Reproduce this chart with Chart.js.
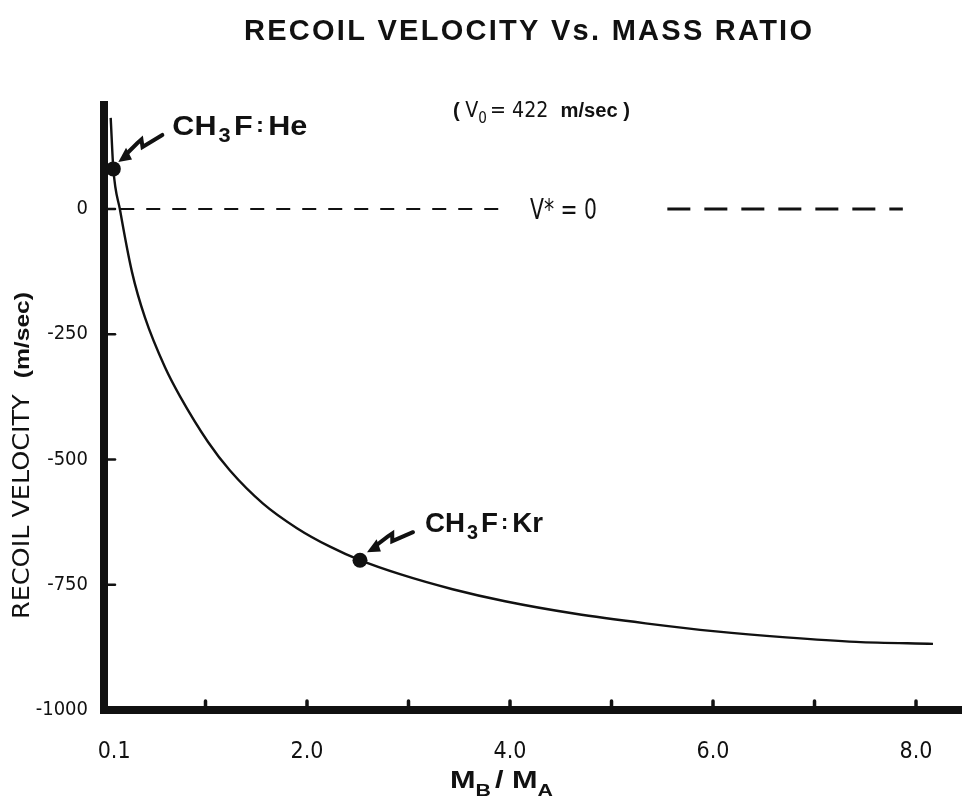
<!DOCTYPE html>
<html>
<head>
<meta charset="utf-8">
<script src="https://cdn.jsdelivr.net/npm/chart.js@4.4.1/dist/chart.umd.min.js"></script>
<style>
  html, body { margin: 0; padding: 0; background: #fff; }
  canvas { display: block; }
</style>
</head>
<body>
<canvas id="recoilChart" width="962" height="796"></canvas>
<script>
// curve: mass ratio M_B/M_A vs recoil velocity (m/sec)
const massRatio = [0.066, 0.092, 0.158, 0.276, 0.404, 0.601, 0.749, 1.025, 1.241, 1.567, 1.901, 2.227, 2.522, 2.916, 3.434, 3.951, 4.644, 5.336, 6.028, 6.719, 7.409, 8.167];
const recoilVelocity = [182, 80, -2, -126, -217, -316, -374, -465, -522, -588, -637, -674, -701, -729, -759, -783, -808, -827, -843, -855, -864, -868];

// marked systems
const markNames = ["He", "Kr"];
const markRatio = [0.092, 2.522];
const markVelocity = [80, -701];

// V* = 0 reference, drawn in two pieces around its label
const zeroLeft = [0.16, 3.96];
const zeroRight = [5.55, 7.87];

const xTicks = [0.1, 1, 2, 3, 4, 5, 6, 7, 8];
const xTickLabels = [0.1, 2, 4, 6, 8];
const yTicks = [0, -250, -500, -750, -1000];

const NARROW = '"Liberation Sans Narrow", "DejaVu Sans Condensed", "Arial Narrow", sans-serif';
const BOLD = '"Liberation Sans", Arial, sans-serif';
const ink = "#111";

function runs(ctx, x, y, parts) {
  parts.forEach((p) => {
    ctx.font = p.font;
    ctx.fillText(p.text, x, y + (p.dy || 0));
    x += ctx.measureText(p.text).width + (p.gap || 0);
  });
  return x;
}

function runsWidth(ctx, parts) {
  let w = 0;
  parts.forEach((p) => {
    ctx.font = p.font;
    w += ctx.measureText(p.text).width + (p.gap || 0);
  });
  return w;
}

// draw text squeezed or stretched to a given width (the lettering is condensed)
function fitText(ctx, x, y, parts, width) {
  const s = width / runsWidth(ctx, parts);
  ctx.save();
  ctx.translate(x, y);
  ctx.scale(s, 1);
  runs(ctx, 0, 0, parts);
  ctx.restore();
}

function zigArrow(ctx, sx, sy, tx, ty) {
  const dx = tx - sx, dy = ty - sy;
  const len = Math.hypot(dx, dy);
  const ux = dx / len, uy = dy / len;
  const nx = -uy, ny = ux;
  const a = 0.45 * len, b = 0.5 * len;
  ctx.beginPath();
  ctx.moveTo(sx, sy);
  ctx.lineTo(sx + ux * a, sy + uy * a);
  ctx.lineTo(sx + ux * (a - 3) + nx * 7, sy + uy * (a - 3) + ny * 7);
  ctx.lineTo(sx + ux * b + nx * 6, sy + uy * b + ny * 6);
  ctx.lineTo(tx - ux * 9 + nx * 2, ty - uy * 9 + ny * 2);
  ctx.lineWidth = 4;
  ctx.lineJoin = "miter";
  ctx.stroke();
  ctx.beginPath();
  ctx.moveTo(tx, ty);
  ctx.lineTo(tx - ux * 14 + nx * 8, ty - uy * 14 + ny * 8);
  ctx.lineTo(tx - ux * 13 - nx * 5, ty - uy * 13 - ny * 5);
  ctx.closePath();
  ctx.fill();
}

const decorations = {
  id: "decorations",
  afterDraw(chart) {
    const { ctx, scales } = chart;
    const x = scales.x, y = scales.y;
    ctx.save();
    ctx.fillStyle = ink;
    ctx.strokeStyle = ink;
    ctx.textBaseline = "alphabetic";

    // tick marks pointing into the plot
    ctx.lineCap = "round";
    ctx.lineWidth = 3.5;
    xTicks.filter((v) => v >= 1).forEach((v) => {
      const px = x.getPixelForValue(v);
      ctx.beginPath();
      ctx.moveTo(px, y.bottom - 3);
      ctx.lineTo(px, y.bottom - 9);
      ctx.stroke();
    });
    ctx.lineWidth = 2.5;
    yTicks.filter((v) => v > -1000).forEach((v) => {
      const py = y.getPixelForValue(v);
      ctx.beginPath();
      ctx.moveTo(x.left + 3, py);
      ctx.lineTo(x.left + 11, py);
      ctx.stroke();
    });

    // title
    ctx.font = "bold 29px " + BOLD;
    const title = "RECOIL VELOCITY Vs. MASS RATIO";
    const w0 = ctx.measureText(title).width;
    ctx.letterSpacing = (568 - w0) / (title.length - 1) + "px";
    ctx.fillText(title, 244, 40);
    ctx.letterSpacing = "0px";

    // (V0 = 422 m/sec)
    fitText(ctx, 453, 117, [
      { text: "( ", font: "bold 20px " + BOLD },
      { text: "V", font: "21px " + NARROW },
      { text: "0", font: "15px " + NARROW, dy: 6, gap: 3 },
      { text: "= 422  ", font: "21px " + NARROW },
      { text: "m/sec )", font: "bold 20px " + BOLD },
    ], 177);

    // V* = 0
    fitText(ctx, 530, 219, [{ text: "V* = 0", font: "28px " + NARROW }], 67);

    // point labels with arrows
    markNames.forEach((name, i) => {
      const px = x.getPixelForValue(markRatio[i]);
      const py = y.getPixelForValue(markVelocity[i]);
      const off = i === 0
        ? { lx: 59, ly: -34, w: 135, ax: 49, ay: -34, tx: 5, ty: -7 }
        : { lx: 65, ly: -28, w: 118, ax: 53, ay: -28, tx: 7, ty: -8 };
      fitText(ctx, px + off.lx, py + off.ly, [
        { text: "CH", font: "bold 28px " + BOLD, gap: 2 },
        { text: "3", font: "bold 20px " + BOLD, dy: 7, gap: 3 },
        { text: "F", font: "bold 28px " + BOLD, gap: 3 },
        { text: ":", font: "bold 22px " + BOLD, dy: -3, gap: 4 },
        { text: name, font: "bold 28px " + BOLD },
      ], off.w);
      zigArrow(ctx, px + off.ax, py + off.ay, px + off.tx, py + off.ty);
    });

    // x axis title  M_B / M_A
    fitText(ctx, 450, 788, [
      { text: "M", font: "bold 23px " + BOLD },
      { text: "B", font: "bold 16px " + BOLD, dy: 8, gap: 3 },
      { text: "/ ", font: "bold 23px " + BOLD },
      { text: "M", font: "bold 23px " + BOLD },
      { text: "A", font: "bold 16px " + BOLD, dy: 8 },
    ], 103);

    // y axis title, rotated
    ctx.translate(29, 456);
    ctx.rotate(-Math.PI / 2);
    fitText(ctx, -163, 0, [
      { text: "RECOIL VELOCITY  ", font: "23px " + NARROW },
      { text: "(m/sec)", font: "bold 20px " + BOLD },
    ], 327);
    ctx.restore();
  },
};

new Chart(document.getElementById("recoilChart").getContext("2d"), {
  type: "line",
  data: {
    datasets: [
      {
        data: massRatio.map((r, i) => ({ x: r, y: recoilVelocity[i] })),
        borderColor: ink,
        borderWidth: 2.4,
        pointRadius: 0,
        cubicInterpolationMode: "monotone",
      },
      {
        data: markRatio.map((r, i) => ({ x: r, y: markVelocity[i] })),
        showLine: false,
        pointRadius: 7.5,
        pointBackgroundColor: ink,
        pointBorderWidth: 0,
      },
      {
        data: zeroLeft.map((r) => ({ x: r, y: 0 })),
        borderColor: ink,
        borderWidth: 2,
        borderDash: [14, 12],
        pointRadius: 0,
      },
      {
        data: zeroRight.map((r) => ({ x: r, y: 0 })),
        borderColor: ink,
        borderWidth: 3,
        borderDash: [23, 14],
        pointRadius: 0,
      },
    ],
  },
  options: {
    responsive: false,
    animation: false,
    layout: { autoPadding: false, padding: { top: 105, right: 0, left: 0, bottom: 0 } },
    plugins: { legend: { display: false }, tooltip: { enabled: false } },
    scales: {
      x: {
        type: "linear",
        min: 0,
        max: 8.453,
        afterFit: (s) => { s.height = 86; s.paddingLeft = 0; s.paddingRight = 0; },
        afterBuildTicks: (s) => { s.ticks = xTicks.map((v) => ({ value: v })); },
        grid: { display: false, drawTicks: false },
        border: { display: true, width: 8, color: ink },
        ticks: {
          autoSkip: false,
          maxRotation: 0,
          padding: 28,
          color: ink,
          font: { family: NARROW, size: 23 },
          callback: (v) => (xTickLabels.includes(v) ? v.toFixed(1) : ""),
        },
      },
      y: {
        type: "linear",
        min: -1000,
        max: 207.6,
        afterFit: (s) => { s.width = 104; s.paddingTop = 0; s.paddingBottom = 0; },
        afterBuildTicks: (s) => { s.ticks = yTicks.map((v) => ({ value: v })); },
        grid: { display: false, drawTicks: false },
        border: { display: true, width: 8, color: ink },
        ticks: {
          padding: 16,
          color: ink,
          font: { family: NARROW, size: 20 },
          callback: (v) => String(v),
        },
      },
    },
  },
  plugins: [decorations],
});
</script>
</body>
</html>
